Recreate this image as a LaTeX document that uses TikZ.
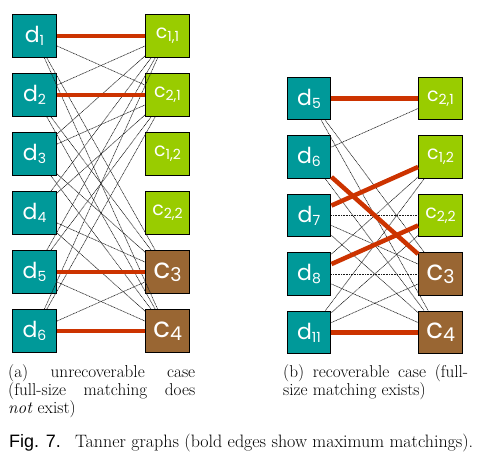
\documentclass[tikz,border=0pt]{standalone}
\usepackage{fontspec}
\usepackage{graphicx}
\newfontfamily\labfont{Poppins}
\newfontfamily\capsans{Liberation Sans}
\definecolor{dteal}{HTML}{009999}
\definecolor{cgreen}{HTML}{99CC00}
\definecolor{cbrown}{HTML}{996633}
\definecolor{matchred}{HTML}{CC3300}
\newcommand\lsub[1]{\raisebox{-3pt}{\fontsize{14}{14}\selectfont #1}}
\newcommand\dlab[1]{{\fontsize{22}{22}\selectfont d\lsub{#1}}}
\newcommand\clab[1]{{\fontsize{19}{19}\selectfont c\lsub{#1}}}
\newcommand\blab[1]{{\fontsize{28}{28}\selectfont c\raisebox{-3pt}{\fontsize{19}{19}\selectfont #1}}}
\begin{document}
\begin{tikzpicture}[x=1pt,y=-1pt,
  box/.style={draw=black, line width=1.4pt, minimum width=43.5pt, minimum height=42.5pt, inner sep=0pt, text=white, font=\labfont},
  dbox/.style={box, fill=dteal},
  gbox/.style={box, fill=cgreen},
  bbox/.style={box, fill=cbrown},
  dotedge/.style={black!90, line width=0.6pt, dash pattern=on 1pt off 0.6pt},
  matchedge/.style={matchred, line width=4.5pt},
  captext/.style={anchor=base west, inner sep=0pt, font=\fontsize{17.2}{18}\selectfont}]
\useasboundingbox (0,0) rectangle (481,459);
% left graph
\node[dbox] (Ld1) at (34.5,36) {\dlab{1}};
\node[dbox] (Ld2) at (34.5,95) {\dlab{2}};
\node[dbox] (Ld3) at (34.5,154) {\dlab{3}};
\node[dbox] (Ld4) at (34.5,213) {\dlab{4}};
\node[dbox] (Ld5) at (34.5,272) {\dlab{5}};
\node[dbox] (Ld6) at (34.5,331) {\dlab{6}};
\node[gbox] (Lc11) at (167.5,36) {\clab{1,1}};
\node[gbox] (Lc21) at (167.5,95) {\clab{2,1}};
\node[gbox] (Lc12) at (167.5,154) {\clab{1,2}};
\node[gbox] (Lc22) at (167.5,213) {\clab{2,2}};
\node[bbox] (Lc3) at (167.5,272) {\blab{3}};
\node[bbox] (Lc4) at (167.5,331) {\blab{4}};
% right graph
\node[dbox] (Rd5) at (309,98.5) {\dlab{5}};
\node[dbox] (Rd6) at (309,157) {\dlab{6}};
\node[dbox] (Rd7) at (309,215.5) {\dlab{7}};
\node[dbox] (Rd8) at (309,274) {\dlab{8}};
\node[dbox] (Rd11) at (309,332.5) {\dlab{11}};
\node[gbox] (Rc21) at (440.5,98.5) {\clab{2,1}};
\node[gbox] (Rc12) at (440.5,157) {\clab{1,2}};
\node[gbox] (Rc22) at (440.5,215.5) {\clab{2,2}};
\node[bbox] (Rc3) at (440.5,274) {\blab{3}};
\node[bbox] (Rc4) at (440.5,332.5) {\blab{4}};
% left dotted edges
\foreach \a/\b in {Ld1/Lc21,Ld1/Lc3,Ld1/Lc4,
                   Ld2/Lc11,Ld2/Lc3,Ld2/Lc4,
                   Ld3/Lc11,Ld3/Lc21,Ld3/Lc3,Ld3/Lc4,
                   Ld4/Lc11,Ld4/Lc21,Ld4/Lc3,Ld4/Lc4,
                   Ld5/Lc11,Ld5/Lc21,Ld5/Lc4,
                   Ld6/Lc11,Ld6/Lc21,Ld6/Lc3}
  \draw[dotedge] (\a) -- (\b);
% right dotted edges
\foreach \a/\b in {Rd5/Rc3,Rd5/Rc4,
                   Rd6/Rc21,Rd6/Rc4,
                   Rd7/Rc22,Rd7/Rc3,Rd7/Rc4,
                   Rd8/Rc12,Rd8/Rc3,Rd8/Rc4,
                   Rd11/Rc12,Rd11/Rc22,Rd11/Rc3}
  \draw[dotedge] (\a) -- (\b);
% matchings
\foreach \a/\b in {Ld1/Lc11,Ld2/Lc21,Ld5/Lc3,Ld6/Lc4,
                   Rd5/Rc21,Rd6/Rc3,Rd7/Rc12,Rd8/Rc22,Rd11/Rc4}
  \draw[matchedge] (\a) -- (\b);
% captions
\node[captext] (capa1) at (8,377) {\makebox[187pt][s]{(a) unrecoverable case}};
\node[captext] (capa2) at (8,395) {\makebox[187pt][s]{(full-size matching does}};
\node[captext] (capa3) at (8,413) {\textit{not} exist)};
\node[captext] (capb1) at (283,377) {\makebox[185pt][s]{(b) recoverable case (full-}};
\node[captext] (capb2) at (283,395) {size matching exists)};
\node[captext] (fig) at (9,447) {\resizebox{464pt}{!}{{\capsans Fig. 7.}\hspace{0.8em}Tanner graphs (bold edges show maximum matchings).}};
\end{tikzpicture}
\end{document}
